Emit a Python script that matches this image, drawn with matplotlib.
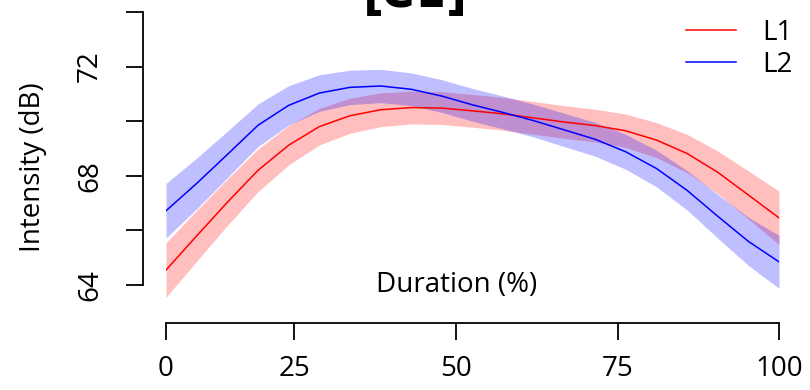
import matplotlib
matplotlib.use("Agg")
import matplotlib.pyplot as plt

plt.rcParams['font.family'] = ['Open Sans', 'DejaVu Sans']

# normalised time in plotting units, 0..100 across the vowel
duration = [0, 5, 10, 15, 20, 25, 30, 35, 40, 45, 50,
            55, 60, 65, 70, 75, 80, 85, 90, 95, 100]

# where the percentage labels sit on that scale
tick_pos = [0, 20.9, 47.3, 73.7, 100]
tick_labels = ["0", "25", "50", "75", "100"]

# smoothed intensity (dB) for each speaker group
l1_fit = [64.55, 65.8, 67.03, 68.2, 69.12, 69.8, 70.2, 70.42, 70.5, 70.48, 70.38,
          70.27, 70.12, 69.97, 69.84, 69.65, 69.31, 68.82, 68.13, 67.3, 66.46]
l2_fit = [66.72, 67.72, 68.78, 69.85, 70.58, 71.03, 71.24, 71.29, 71.17, 70.92, 70.6,
          70.32, 70.02, 69.68, 69.34, 68.88, 68.27, 67.47, 66.52, 65.6, 64.85]

# half width of the confidence band
l1_ci = [1.0, 0.93, 0.85, 0.78, 0.72, 0.67, 0.64, 0.62, 0.6, 0.6, 0.6,
         0.6, 0.6, 0.6, 0.6, 0.61, 0.64, 0.7, 0.78, 0.88, 0.98]
l2_ci = [1.0, 0.93, 0.85, 0.78, 0.72, 0.67, 0.63, 0.61, 0.6, 0.6, 0.6,
         0.6, 0.6, 0.61, 0.62, 0.64, 0.67, 0.72, 0.8, 0.88, 0.97]

groups = ["L1", "L2"]
colours = ["red", "blue"]
title = "[eɪ]"


def draw_group(ax, fit, ci, colour, label):
    lower = [f - c for f, c in zip(fit, ci)]
    upper = [f + c for f, c in zip(fit, ci)]
    ax.fill_between(duration, lower, upper, color=colour, alpha=0.25, linewidth=0)
    ax.plot(duration, fit, color=colour, linewidth=1.1, label=label)


fig = plt.figure(figsize=(8.1, 3.9), dpi=100)
ax = fig.add_axes([166 / 810, 67 / 390, 613 / 810, 311 / 390])

draw_group(ax, l1_fit, l1_ci, colours[0], groups[0])
draw_group(ax, l2_fit, l2_ci, colours[1], groups[1])

ax.set_xlim(0, 100)
ax.set_ylim(62.61, 74)

for side in ["top", "right"]:
    ax.spines[side].set_visible(False)
ax.spines["left"].set_position(("outward", 16.5))
ax.spines["left"].set_bounds(64, 74)
ax.spines["bottom"].set_bounds(0, 100)
ax.spines["left"].set_linewidth(1.3)
ax.spines["bottom"].set_linewidth(1.3)

ax.set_xticks(tick_pos)
ax.set_xticklabels(tick_labels)
ax.set_yticks([64, 66, 68, 70, 72, 74])
ax.set_yticklabels(["64", "", "68", "", "72", ""], rotation=90, va="center")
ax.tick_params(axis="both", length=12.5, width=1.3, labelsize=20)
ax.tick_params(axis="x", pad=10.5)
ax.tick_params(axis="y", pad=15.5)

ax.set_ylabel("Intensity (dB)", fontsize=20, labelpad=21)
fig.text(457 / 810, 1 - 285 / 390, "Duration (%)",
         ha="center", va="center", fontsize=20)

fig.text(415 / 810, 1 - 7 / 390, title, ha="center", va="baseline",
         fontsize=42, fontweight="bold")

ax.legend(loc="upper right", bbox_to_anchor=(793 / 810, 1 - 19 / 390),
          bbox_transform=fig.transFigure, borderaxespad=0, borderpad=0,
          frameon=False, fontsize=20, handlelength=1.8, handletextpad=0.95,
          labelspacing=0.15)

fig.savefig("out.png", dpi=100)
